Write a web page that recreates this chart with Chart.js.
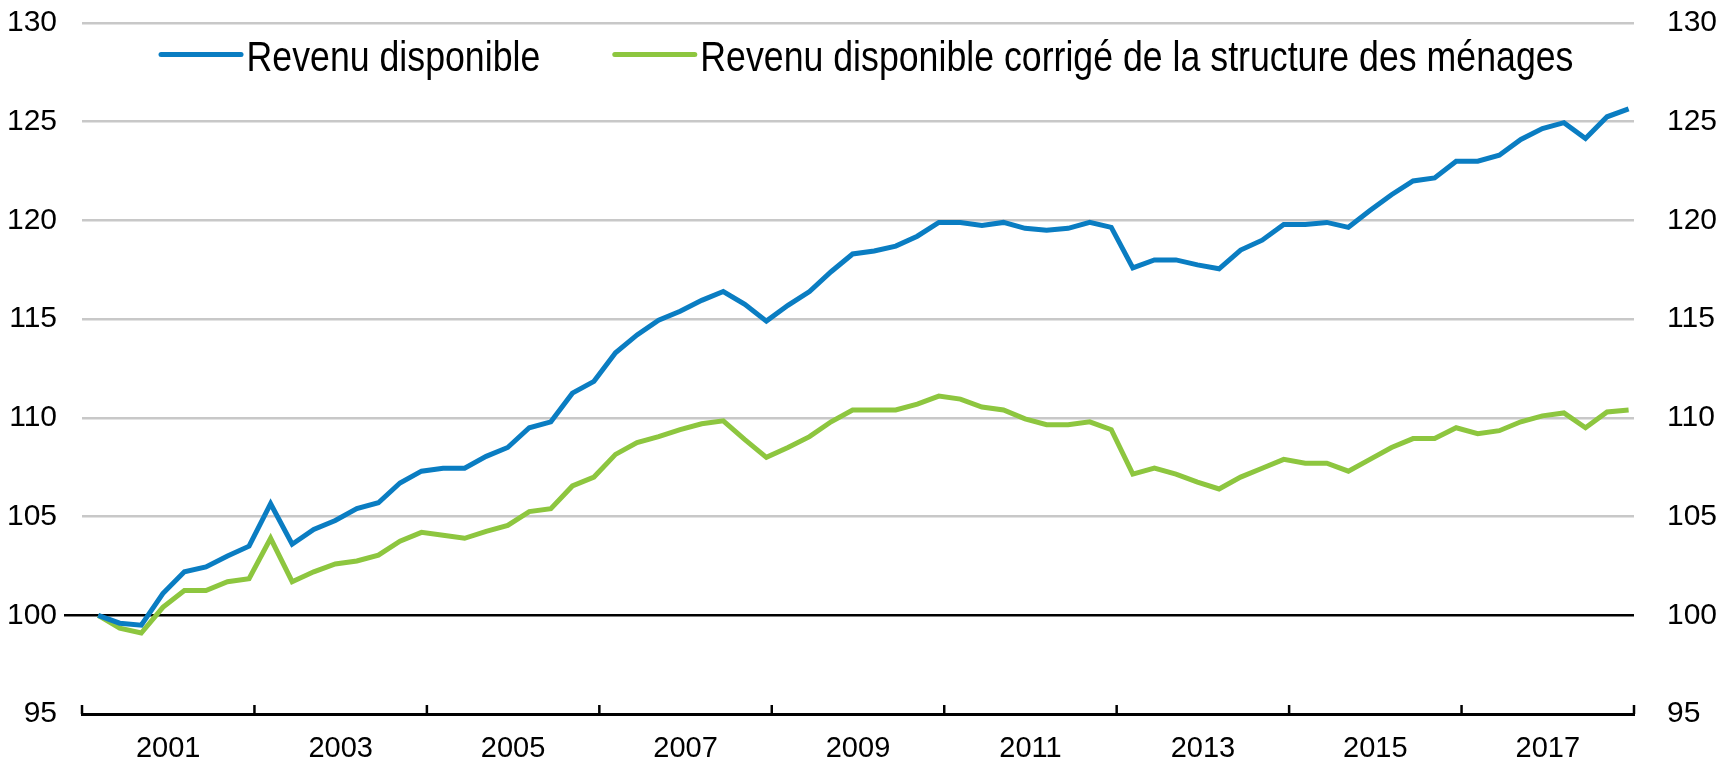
<!DOCTYPE html>
<html>
<head>
<meta charset="UTF-8">
<title>Revenu disponible</title>
<script src="https://cdn.jsdelivr.net/npm/chart.js@4.4.1/dist/chart.umd.min.js"></script>
<style>
  body { margin: 0; background: #fff; }
</style>
</head>
<body>
<canvas id="myChart" width="1727" height="760"></canvas>
<script>
// trimestres 2000T1 - 2017T4
var annees = [2000, 2001, 2002, 2003, 2004, 2005, 2006, 2007, 2008,
              2009, 2010, 2011, 2012, 2013, 2014, 2015, 2016, 2017];
var trimestres = [];
annees.forEach(function (a) { for (var q = 1; q <= 4; q++) trimestres.push(a + 'T' + q); });

var revenuDisponible = [
  100.0, 99.6, 99.5, 101.1, 102.2, 102.45, 103.0, 103.5,
  105.65, 103.6, 104.35, 104.8, 105.4, 105.7, 106.7, 107.3,
  107.45, 107.45, 108.05, 108.5, 109.5, 109.8, 111.25, 111.85,
  113.3, 114.2, 114.95, 115.4, 115.95, 116.4, 115.75, 114.9,
  115.7, 116.4, 117.4, 118.3, 118.45, 118.7, 119.2, 119.9,
  119.9, 119.75, 119.9, 119.6, 119.5, 119.6, 119.9, 119.65,
  117.6, 118.0, 118.0, 117.75, 117.55, 118.5, 119.0, 119.8,
  119.8, 119.9, 119.65, 120.5, 121.3, 122.0, 122.15, 123.0,
  123.0, 123.3, 124.1, 124.65, 124.95, 124.15, 125.25, 125.65
];
var revenuCorrige = [
  100.0, 99.35, 99.1, 100.4, 101.25, 101.25, 101.7, 101.85,
  103.9, 101.7, 102.2, 102.6, 102.75, 103.05, 103.75, 104.2,
  104.05, 103.9, 104.25, 104.55, 105.25, 105.4, 106.55, 107.0,
  108.15, 108.75, 109.05, 109.4, 109.7, 109.85, 108.9, 108.0,
  108.5, 109.05, 109.8, 110.4, 110.4, 110.4, 110.7, 111.1,
  110.95, 110.55, 110.4, 109.95, 109.65, 109.65, 109.8, 109.4,
  107.15, 107.45, 107.15, 106.75, 106.4, 107.0, 107.45, 107.9,
  107.7, 107.7, 107.3, 107.9, 108.5, 108.95, 108.95, 109.5,
  109.2, 109.35, 109.8, 110.1, 110.25, 109.5, 110.3, 110.4
];
var anneesAffichees = [2001, 2003, 2005, 2007, 2009, 2011, 2013, 2015, 2017];
var yMin = 95, yMax = 130, yPas = 5;

var police = '"Liberation Sans", Arial, sans-serif';

// position d'un trimestre sur l'axe des années
function pos(i) { return annees[0] + (i + 0.75) / 4; }
function points(serie) { return serie.map(function (v, i) { return { x: pos(i), y: v, t: trimestres[i] }; }); }

// petites graduations vers le haut tous les deux ans
var graduations = {
  id: 'graduations',
  afterDatasetsDraw: function (chart) {
    var ctx = chart.ctx, x = chart.scales.x, bas = chart.chartArea.bottom;
    ctx.save();
    ctx.strokeStyle = '#000';
    ctx.lineWidth = 2.5;
    for (var a = annees[0]; a <= annees[annees.length - 1] + 1; a += 2) {
      var px = x.getPixelForValue(a);
      ctx.beginPath();
      ctx.moveTo(px, bas);
      ctx.lineTo(px, bas - 9);
      ctx.stroke();
    }
    ctx.restore();
  }
};

// légende dans la zone du graphique, texte un peu resserré
var serre = 0.85;
var legende = {
  id: 'legende',
  afterDraw: function (chart) {
    var ctx = chart.ctx;
    ctx.save();
    ctx.font = '42px ' + police;
    ctx.textBaseline = 'alphabetic';
    var items = chart.data.datasets.map(function (d) { return { d: d, w: ctx.measureText(d.label).width * serre }; });
    var total = 0;
    items.forEach(function (it) { total += 89 + it.w; });
    total += 71 * (items.length - 1);
    var x = chart.width / 2 + 3 - total / 2;
    items.forEach(function (it) {
      ctx.strokeStyle = it.d.borderColor;
      ctx.lineWidth = 5;
      ctx.lineCap = 'round';
      ctx.beginPath();
      ctx.moveTo(x + 2.5, 54.5);
      ctx.lineTo(x + 82.5, 54.5);
      ctx.stroke();
      ctx.save();
      ctx.translate(x + 88, 70.5);
      ctx.scale(serre, 1);
      ctx.fillStyle = '#000';
      ctx.fillText(it.d.label, 0, 0);
      ctx.restore();
      x += 89 + it.w + 71;
    });
    ctx.restore();
  }
};

var ctx = document.getElementById('myChart').getContext('2d');
var chart = new Chart(ctx, {
  type: 'line',
  data: {
    datasets: [
      { label: 'Revenu disponible', data: points(revenuDisponible),
        borderColor: '#0A7DC2', borderWidth: 5, pointRadius: 0, tension: 0, fill: false },
      { label: 'Revenu disponible corrigé de la structure des ménages', data: points(revenuCorrige),
        borderColor: '#8DC63F', borderWidth: 5, pointRadius: 0, tension: 0, fill: false }
    ]
  },
  options: {
    responsive: false,
    animation: false,
    devicePixelRatio: 1,
    layout: { padding: { top: 23, left: 0, right: 0, bottom: 0 } },
    plugins: { legend: { display: false }, tooltip: { enabled: false } },
    scales: {
      x: {
        type: 'linear',
        min: annees[0],
        max: annees[annees.length - 1] + 1,
        grid: { display: false },
        border: { display: true, color: '#000', width: 3 },
        ticks: {
          stepSize: 1, autoSkip: false, maxRotation: 0, padding: 10,
          color: '#000', font: { family: police, size: 29 },
          callback: function (v) { return anneesAffichees.indexOf(v) >= 0 ? String(v) : ''; }
        },
        afterFit: function (s) { s.height = 46; }
      },
      y: {
        position: 'left',
        min: yMin, max: yMax,
        ticks: { stepSize: yPas, padding: 7, color: '#000', font: { family: police, size: 30, lineHeight: 1 } },
        grid: {
          color: function (c) {
            if (!c.tick) return '#C8C8C8';
            if (c.tick.value === 100) return '#000';
            if (c.tick.value === yMin) return 'rgba(0,0,0,0)';
            return '#C8C8C8';
          },
          lineWidth: 2.5,
          tickLength: 18,
          tickWidth: 2.5,
          tickColor: function (c) { return c.tick && c.tick.value === 100 ? '#000' : 'rgba(0,0,0,0)'; }
        },
        border: { display: false },
        afterFit: function (s) { s.width = 82; }
      },
      y2: {
        position: 'right',
        min: yMin, max: yMax,
        ticks: { stepSize: yPas, padding: 7, color: '#000', font: { family: police, size: 30, lineHeight: 1 } },
        grid: { display: true, drawOnChartArea: false, tickLength: 26, tickColor: 'rgba(0,0,0,0)' },
        border: { display: false },
        afterFit: function (s) { s.width = 93; }
      }
    }
  },
  plugins: [graduations, legende]
});
</script>
</body>
</html>
